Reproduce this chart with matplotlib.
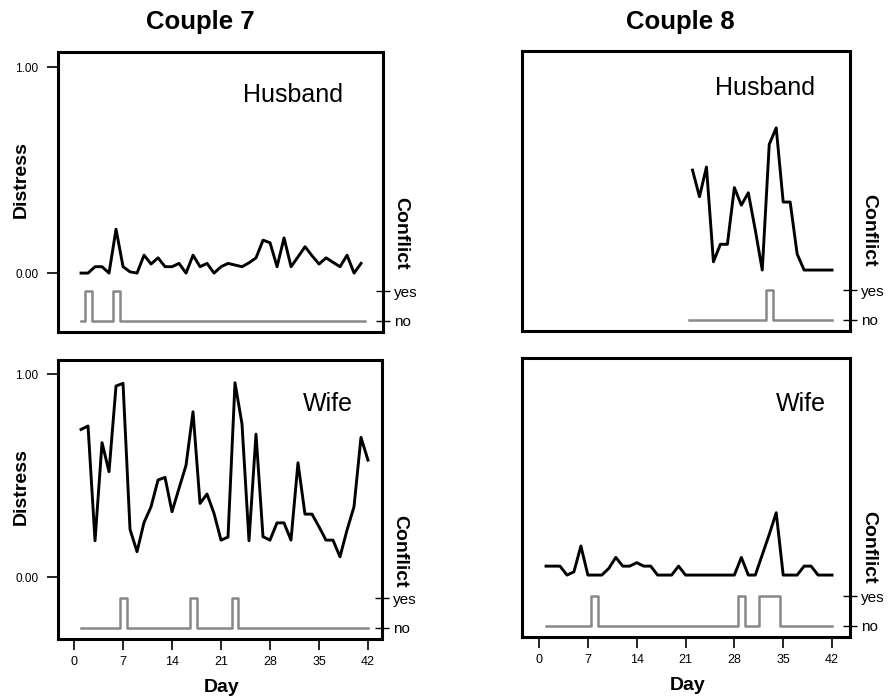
import numpy as np
import matplotlib.pyplot as plt

plt.rcParams['font.family'] = ['Liberation Sans', 'DejaVu Sans']

nan = np.nan
days = np.arange(1, 43)
day_ticks = [0, 7, 14, 21, 28, 35, 42]

# Couple 7
c7_husband = [0, 0, 0.031, 0.031, 0, 0.213, 0.031, 0.006, 0, 0.087,
              0.044, 0.074, 0.031, 0.031, 0.047, 0, 0.087, 0.031, 0.047, 0,
              0.031, 0.047, 0.039, 0.031, 0.05, 0.074, 0.16, 0.147, 0.031, 0.171,
              0.031, 0.079, 0.128, 0.084, 0.044, 0.074, 0.052, 0.031, 0.087, 0,
              0.047, nan]
c7_husband_conflict = [0, 1, 0, 0, 0, 1, 0, 0, 0, 0,
                       0, 0, 0, 0, 0, 0, 0, 0, 0, 0,
                       0, 0, 0, 0, 0, 0, 0, 0, 0, 0,
                       0, 0, 0, 0, 0, 0, 0, 0, 0, 0,
                       0, nan]
c7_wife = [0.727, 0.744, 0.179, 0.662, 0.519, 0.941, 0.954, 0.235, 0.125, 0.269,
           0.346, 0.478, 0.491, 0.322, 0.437, 0.55, 0.814, 0.363, 0.409, 0.314,
           0.182, 0.197, 0.957, 0.754, 0.179, 0.704, 0.199, 0.182, 0.267, 0.267,
           0.182, 0.563, 0.31, 0.31, 0.248, 0.182, 0.182, 0.10, 0.231, 0.346,
           0.688, 0.576]
c7_wife_conflict = [0, 0, 0, 0, 0, 0, 1, 0, 0, 0,
                    0, 0, 0, 0, 0, 0, 1, 0, 0, 0,
                    0, 0, 1, 0, 0, 0, 0, 0, 0, 0,
                    0, 0, 0, 0, 0, 0, 0, 0, 0, 0,
                    0, 0]

# Couple 8 (husband only reported from day 22)
c8_husband = [nan] * 21 + [0.485, 0.356, 0.50, 0.04, 0.125, 0.125, 0.40, 0.315, 0.375,
                           0.194, 0.0, 0.61, 0.69, 0.33, 0.33, 0.078, 0, 0, 0, 0, 0]
c8_husband_conflict = [nan] * 21 + [0, 0, 0, 0, 0, 0, 0, 0, 0,
                                    0, 0, 1, 0, 0, 0, 0, 0, 0, 0, 0, 0]
c8_wife = [0.044, 0.044, 0.044, 0, 0.016, 0.143, 0, 0, 0, 0.033,
           0.087, 0.044, 0.044, 0.061, 0.044, 0.044, 0, 0, 0, 0.044,
           0, 0, 0, 0, 0, 0, 0, 0, 0.087, 0,
           0, 0.10, 0.20, 0.307, 0, 0, 0, 0.044, 0.044, 0,
           0, 0]
c8_wife_conflict = [0, 0, 0, 0, 0, 0, 0, 1, 0, 0,
                    0, 0, 0, 0, 0, 0, 0, 0, 0, 0,
                    0, 0, 0, 0, 0, 0, 0, 0, 1, 0,
                    0, 1, 1, 1, 0, 0, 0, 0, 0, 0,
                    0, 0]

fig = plt.figure(figsize=(8.91, 7.0), dpi=100)


def panel(rect, distress, conflict, who, who_xy, xlim, ylim, left_axis, bottom_axis, conf_y):
    ax = fig.add_axes(rect)
    ax2 = ax.twinx()
    ax.plot(days, distress, color='black', lw=2.1, zorder=3)
    ax2.step(days, conflict, where='mid', color='#888888', lw=1.8)

    ax.set_xlim(*xlim)
    ax.set_ylim(*ylim)
    ax2.set_ylim(-0.38, 9.1)

    for s in ax.spines.values():
        s.set_linewidth(2.2)
    for s in ax2.spines.values():
        s.set_visible(False)

    if left_axis:
        ax.set_yticks([0, 1])
        ax.set_yticklabels(['0.00', '1.00'], fontsize=8.5)
        ax.tick_params(axis='y', direction='out', length=8, width=1.2, pad=6)
        ax.set_ylabel('Distress', fontsize=14, fontweight='bold')
        ax.yaxis.set_label_coords(-0.088, 0.545)
    else:
        ax.set_yticks([])

    if bottom_axis:
        ax.set_xticks(day_ticks)
        ax.set_xticklabels([str(d) for d in day_ticks], fontsize=9)
        ax.tick_params(axis='x', direction='out', length=8, width=1.2, pad=4)
        ax.set_xlabel('Day', fontsize=14, fontweight='bold')
        ax.xaxis.set_label_coords(0.505, -0.145)
    else:
        ax.set_xticks([])

    ax2.set_yticks([0, 1])
    ax2.set_yticklabels(['no', 'yes'], fontsize=11)
    ax2.tick_params(axis='y', direction='inout', length=10, width=1.0, pad=3)
    ax2.set_ylabel('Conflict', fontsize=14, fontweight='bold', rotation=270)
    ax2.yaxis.set_label_coords(1.082, conf_y)

    ax.text(who_xy[0], who_xy[1], who, transform=ax.transAxes, fontsize=18,
            ha='left', va='baseline')
    return ax


panel([0.0651, 0.5257, 0.3648, 0.4], c7_husband, c7_husband_conflict, 'Husband',
      (0.569, 0.821), (-2.29, 44.14), (-0.286, 1.073), True, False, 0.354)
panel([0.0651, 0.0871, 0.3636, 0.3986], c7_wife, c7_wife_conflict, 'Wife',
      (0.756, 0.817), (-2.29, 44.0), (-0.305, 1.069), True, True, 0.315)
panel([0.5859, 0.5271, 0.3681, 0.4], c8_husband, c8_husband_conflict, 'Husband',
      (0.588, 0.843), (-2.44, 44.58), (-0.296, 1.063), False, False, 0.36)
panel([0.5859, 0.09, 0.3681, 0.3986], c8_wife, c8_wife_conflict, 'Wife',
      (0.774, 0.81), (-2.44, 44.58), (-0.305, 1.069), False, True, 0.323)

fig.text(200 / 891, 1 - 22 / 700, 'Couple 7', fontsize=18.5, fontweight='bold',
         ha='center', va='center')
fig.text(680 / 891, 1 - 22 / 700, 'Couple 8', fontsize=18.5, fontweight='bold',
         ha='center', va='center')

fig.savefig('out.png', dpi=100)
